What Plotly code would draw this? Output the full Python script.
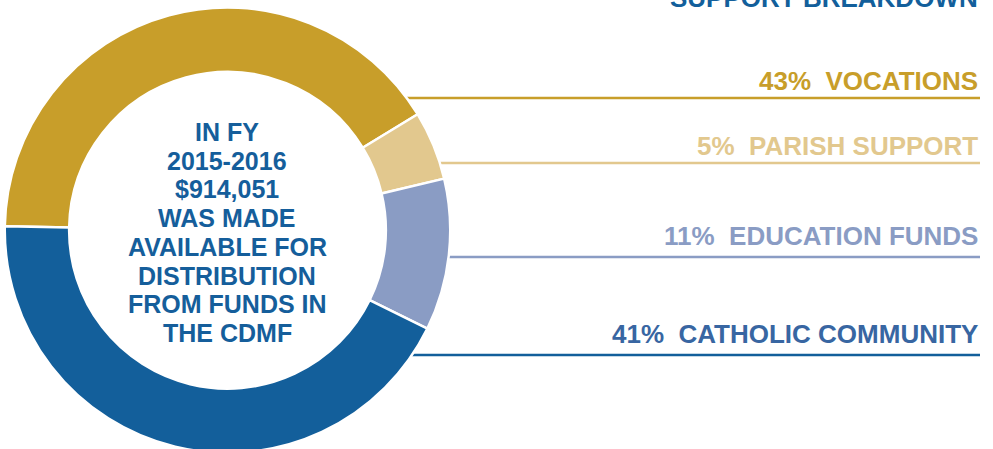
import math
import plotly.graph_objects as go

# ---------------- data ----------------
categories = ["VOCATIONS", "PARISH SUPPORT", "EDUCATION FUNDS", "CATHOLIC COMMUNITY"]
printed_pct = [43, 5, 11, 41]          # percentages as printed in the labels
arc_share = [41, 5, 11, 43]            # share of the ring each arc covers
slice_colors = ["#C89E2A", "#E2C88E", "#8A9CC4", "#135F9B"]
label_colors = ["#C89E2A", "#E2C88E", "#8A9CC4", "#3866A2"]
center_lines = ["IN FY", "2015-2016", "$914,051", "WAS MADE", "AVAILABLE FOR",
                "DISTRIBUTION", "FROM FUNDS IN", "THE CDMF"]
title_text = "SUPPORT BREAKDOWN"

# ---------------- layout geometry (pixels) ----------------
W, H = 993, 453          # slightly taller than the window: the ring runs off the bottom
CX, TOP = 227.5, 7.5
R = (H - TOP) / 2
CY = TOP + R
HOLE = 0.711
LABEL_RIGHT = 980
label_cap_mid = [81, 146, 236, 334]
rule_y = [98, 163, 257, 355]


def px(x):
    return x / W


def py(y):
    return 1 - y / H


fig = go.Figure(go.Pie(
    labels=categories,
    values=arc_share,
    sort=False,
    direction="clockwise",
    rotation=-89,
    hole=HOLE,
    marker=dict(colors=slice_colors, line=dict(color="white", width=2.5)),
    textinfo="none",
    hoverinfo="label+percent",
    showlegend=False,
    domain=dict(x=[px(CX - R), px(CX + R)], y=[0, py(TOP)]),
))

font_family = "Liberation Sans, Arial, Helvetica, sans-serif"
annotations = []
first_y, spacing = 132, 28.7
for i, line in enumerate(center_lines):
    annotations.append(dict(
        x=px(CX - 0.5), y=py(first_y + i * spacing), xref="paper", yref="paper",
        text=line, showarrow=False, xanchor="center", yanchor="middle",
        font=dict(family=font_family, size=25, color="#155E9B", weight=700),
    ))

shapes = []
for cat, pct, col, lcol, ym, yr in zip(categories, printed_pct, slice_colors,
                                         label_colors, label_cap_mid, rule_y):
    annotations.append(dict(
        x=px(LABEL_RIGHT), y=py(ym), xref="paper", yref="paper",
        text=f"{pct}%&nbsp;&nbsp;{cat}", showarrow=False,
        xanchor="right", yanchor="middle",
        font=dict(family=font_family, size=26, color=lcol, weight=700),
    ))
    dy = yr - CY
    x0 = CX + math.sqrt(max(R * R - dy * dy, 0))
    shapes.append(dict(
        type="line", xref="paper", yref="paper",
        x0=px(x0), x1=px(LABEL_RIGHT), y0=py(yr), y1=py(yr),
        line=dict(color=col, width=2.5), layer="below",
    ))

annotations.append(dict(
    x=px(LABEL_RIGHT), y=py(-2.5), xref="paper", yref="paper",
    text=title_text, showarrow=False, xanchor="right", yanchor="middle",
    font=dict(family=font_family, size=26, color="#135F9B", weight=700),
))

fig.update_layout(
    width=W, height=H,
    margin=dict(l=0, r=0, t=0, b=0),
    paper_bgcolor="white", plot_bgcolor="white",
    annotations=annotations, shapes=shapes,
)

fig.write_html(
    "out.html",
    config={"displayModeBar": False},
    post_script="document.body.style.margin='0';"
                "document.body.style.overflow='hidden';"
                "document.documentElement.style.overflow='hidden';",
)
